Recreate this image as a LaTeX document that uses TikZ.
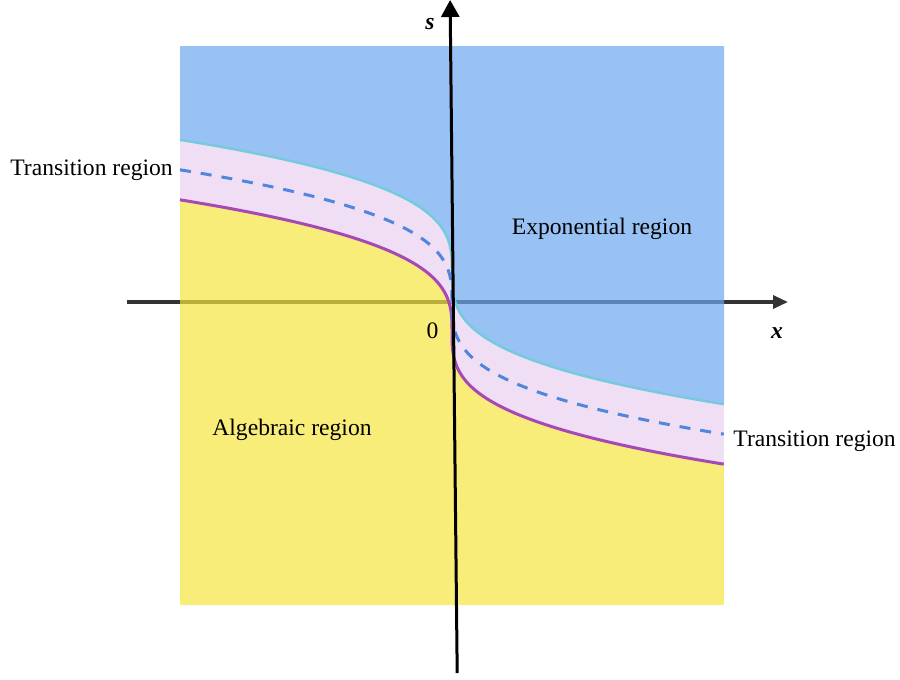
\documentclass[tikz,border=0pt]{standalone}
\usepackage{fontspec}
\setmainfont{Liberation Serif}
\usetikzlibrary{arrows.meta}
\definecolor{regblue}{RGB}{108,168,239}
\definecolor{regpink}{RGB}{234,208,239}
\definecolor{regyellow}{RGB}{246,229,64}
\definecolor{cyanline}{RGB}{118,202,222}
\definecolor{purpleline}{RGB}{166,72,182}
\definecolor{dashline}{RGB}{80,134,221}
\definecolor{axisgray}{RGB}{51,51,51}
\def\tm{6.479}
\begin{document}
\begin{tikzpicture}[x=0.5pt,y=-0.5pt,
  lbl/.style={inner sep=0pt,font=\fontsize{11.8}{14}\selectfont},
  region/.style={fill opacity=0.7},
  haxis/.style={draw=axisgray,line width=1.6pt,-{Triangle[length=7.5pt,width=6.5pt]}},
  vaxis/.style={draw=black,line width=1.5pt,-{Triangle[length=8.5pt,width=9pt]}},
  bound/.style={line width=1.25pt},
  curveplot/.style={domain=-\tm:\tm,samples=241,variable=\t}]
\useasboundingbox (0,0) rectangle (900,680);
% horizontal axis (under the translucent regions)
\coordinate (hs) at (127,302);
\coordinate (he) at (788,302);
\draw[haxis] (hs) -- (he);
% regions
\fill[region,regblue] (180,46) -- (724,46) -- (724,404.2)
  -- plot[curveplot] ({452-\t*\t*\t},{272-20.4*\t}) -- cycle;
\fill[region,regpink] plot[curveplot] ({452+\t*\t*\t},{272+20.4*\t})
  -- plot[curveplot] ({452-\t*\t*\t},{332-20.4*\t}) -- cycle;
\fill[region,regyellow] plot[curveplot] ({452+\t*\t*\t},{332+20.4*\t})
  -- (724,605) -- (180,605) -- cycle;
% boundary curves
\draw[bound,cyanline] plot[curveplot] ({452+\t*\t*\t},{272+20.4*\t});
\draw[bound,purpleline,line width=1.5pt] plot[curveplot] ({452+\t*\t*\t},{332+20.4*\t});
\draw[dashline,line width=1.5pt,dash pattern=on 5.5pt off 5pt] plot[curveplot] ({452+\t*\t*\t},{302+20.4*\t});
% vertical axis
\coordinate (vb) at (457.2,673);
\coordinate (vt) at (450.1,0);
\draw[vaxis] (vb) -- (vt);
% labels
\node[lbl,anchor=base west] (trl) at (10,175) {Transition region};
\node[lbl,anchor=base west] (trr) at (733,446) {Transition region};
\node[lbl,anchor=base] (expo) at (602,234) {Exponential region};
\node[lbl,anchor=base] (alge) at (292,435) {Algebraic region};
\node[lbl,anchor=base] (zero) at (432.5,338) {0};
\node[lbl,anchor=base] (xl) at (777,338) {\textbf{\textit{x}}};
\node[lbl,anchor=base] (sl) at (430,30) {\textbf{\textit{s}}};
\end{tikzpicture}
\end{document}
